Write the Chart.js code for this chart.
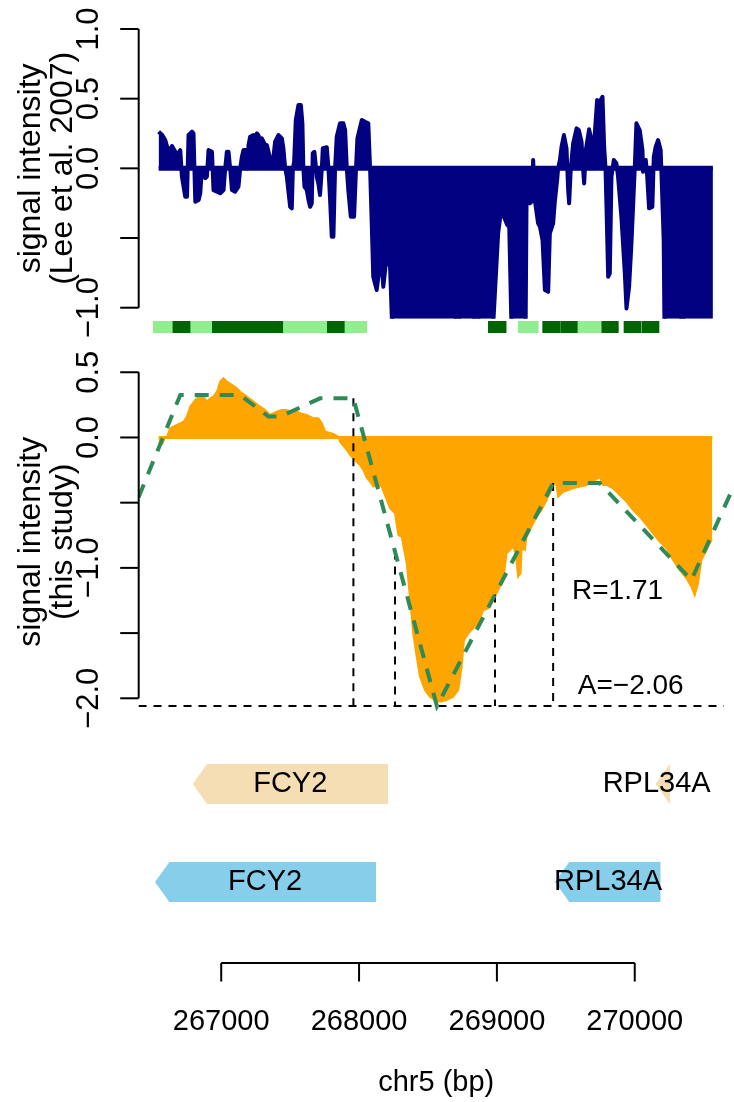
<!DOCTYPE html>
<html><head><meta charset="utf-8">
<script src="https://cdn.jsdelivr.net/npm/chart.js@4.4.1/dist/chart.umd.min.js"></script>
<style>
html,body{margin:0;padding:0;background:#fff;}
#wrap{position:relative;width:734px;height:1102px;overflow:hidden;background:#fff;}
canvas{position:absolute;left:0;top:0;}
</style></head><body>
<div id="wrap">
<canvas id="cTop" width="734" height="1102"></canvas>
<canvas id="cBox" width="734" height="1102"></canvas>
<canvas id="cMid" width="734" height="1102"></canvas>
<canvas id="cGene" width="734" height="1102"></canvas>
</div>
<script>
// ---------- data ----------
const xMin = 266400, xMax = 270720;

// Lee et al. 2007 signal (bp, value)
const leePos = [266546,266572,266594,266618,266643,266667,266679,266703,266715,266739,266752,266763,266788,266799,266812,266836,266848,266860,266884,266896,266908,266933,266944,266969,266993,267017,267029,267041,267053,267065,267078,267101,267125,267138,267150,267162,267181,267191,267198,267210,267234,267246,267259,267270,267283,267295,267319,267331,267343,267360,267379,267391,267415,267440,267451,267464,267476,267500,267512,267520,267529,267541,267560,267578,267589,267596,267604,267621,267633,267645,267657,267664,267676,267688,267693,267705,267717,267730,267737,267766,267778,267790,267802,267814,267826,267838,267862,267886,267899,267911,267922,267940,267964,267978,267988,268020,268043,268067,268080,268092,268103,268128,268140,268164,268176,268201,268225,268249,268297,268442,268587,268696,268715,268732,268790,268833,268853,268870,268920,268969,269009,269034,269051,269075,269089,269107,269130,269167,269208,269215,269239,269251,269263,269275,269299,269312,269331,269348,269372,269384,269408,269420,269437,269444,269457,269469,269486,269505,269517,269524,269536,269553,269578,269594,269614,269625,269633,269645,269669,269686,269698,269705,269727,269746,269766,269778,269788,269795,269807,269819,269831,269848,269867,269879,269903,269928,269940,269959,269976,269993,270000,270012,270036,270056,270060,270080,270089,270104,270128,270138,270152,270169,270188,270198,270210,270217,270268,270333,270346,270355,270435,270507,270567];
const leeVal = [0.263,0.239,0.203,0.119,0.160,0.119,0.095,0.131,-0.060,-0.204,-0.204,0.239,0.263,0.251,-0.240,-0.227,-0.179,0,-0.070,-0.060,0.131,0.119,-0.156,-0.168,-0.179,-0.156,0,0.119,0.119,0,-0.156,-0.168,-0.132,0,0.083,0.131,0.131,0,0.167,0.227,0.239,0.167,0.251,0.239,0.191,0.215,0.167,0.167,0.119,0.047,0.083,0.191,0.239,0.215,0.144,0,-0.060,-0.276,-0.287,0,0.047,0.347,0.454,0.454,0.323,0,-0.132,-0.156,-0.227,-0.276,-0.251,0.108,0.119,0,-0.060,-0.108,-0.192,0,0.144,0.151,0,-0.227,-0.491,-0.491,0,0.227,0.323,0.323,0.275,0,-0.156,-0.347,-0.347,0,0.215,0.347,0.334,0.323,0,-0.395,-0.778,-0.873,-0.778,-0.682,-0.850,-0.622,-0.706,-1.40,-1.60,-1.90,-1.70,-1.30,-0.85,-1.30,-1.50,-1.20,-0.63,-1.20,-1.60,-1.20,-0.466,-0.276,-0.347,-0.407,-0.395,-1.20,-1.60,-1.50,-1.20,-0.227,-0.251,-0.240,0.060,-0.227,-0.395,-0.419,-0.515,-0.873,-0.886,-0.466,-0.395,-0.240,-0.084,0,0.060,0.155,0.239,0.144,-0.156,-0.251,0,0.179,0.287,0.275,0.191,0,-0.108,0.131,0.280,0.203,0,0.179,0.490,0.478,0.514,0.155,0,-0.276,-0.778,-0.754,-0.060,0.060,0.036,-0.060,-0.347,-0.754,-1.005,-0.850,-0.538,-0.156,0,0.323,0.275,0.131,-0.024,0.060,-0.036,-0.287,-0.276,0.083,0.155,0.203,0.131,-0.156,-0.515,-1.30,-1.60,-1.30,-0.730,-1.30,-1.70,-1.40,-1.30];
const leeTickVals = [-1, -0.5, 0, 0.5, 1];
const leeTickLabels = ['\u22121.0', '', '0.0', '0.5', '1.0'];

// nucleosome boxes
const nucStart = [266507,266645,266774,266931,267059,267189,267318,267446,267603,267765,267893,268938,269155,269332,269463,269583,269760,269922,270051];
const nucEnd   = [266645,266774,266931,267059,267189,267318,267446,267603,267765,267893,268056,269067,269300,269458,269583,269753,269881,270043,270176];
const nucClass = ['fuzzy','well','fuzzy','well','well','well','well','fuzzy','fuzzy','well','fuzzy','well','fuzzy','well','well','fuzzy','well','well','well'];

// this study signal
const studyPos = [266546,266572,266594,266607,266630,266679,266727,266751,266775,266812,266848,266872,266896,266920,266944,266969,266993,267017,267041,267078,267114,267138,267186,267234,267283,267319,267355,267379,267404,267440,267476,267500,267536,267572,267621,267669,267705,267730,267754,267778,267814,267850,267862,267911,267935,267959,267983,268007,268031,268056,268080,268104,268140,268164,268201,268225,268261,268285,268309,268346,268370,268393,268418,268442,268478,268514,268551,268587,268636,268683,268720,268744,268761,268792,268828,268865,268901,268937,268973,269009,269046,269070,269094,269118,269136,269154,269172,269179,269203,269215,269251,269288,269324,269348,269384,269420,269428,269444,269481,269517,269553,269601,269650,269698,269746,269770,269795,269843,269891,269940,269988,270036,270085,270133,270181,270230,270278,270326,270375,270411,270435,270459,270483,270520,270556,270563];
const studyVal = [-0.05,-0.05,0.006,0.006,0.071,0.096,0.121,0.160,0.236,0.288,0.326,0.313,0.275,0.301,0.313,0.351,0.428,0.454,0.428,0.403,0.377,0.351,0.313,0.275,0.236,0.211,0.173,0.186,0.198,0.211,0.211,0.198,0.211,0.186,0.173,0.147,0.147,0.109,0.044,0.038,0.027,0.006,-0.032,-0.096,-0.134,-0.160,-0.186,-0.211,-0.249,-0.311,-0.339,-0.377,-0.364,-0.377,-0.479,-0.543,-0.581,-0.748,-0.761,-0.965,-1.233,-1.502,-1.681,-1.834,-1.936,-1.988,-2.013,-2.026,-2.013,-1.988,-1.936,-1.758,-1.553,-1.502,-1.463,-1.425,-1.323,-1.310,-1.246,-1.169,-1.093,-0.888,-0.863,-0.837,-0.888,-1.067,-1.041,-0.850,-0.863,-0.761,-0.684,-0.607,-0.556,-0.505,-0.428,-0.339,-0.339,-0.454,-0.416,-0.403,-0.390,-0.377,-0.364,-0.339,-0.301,-0.364,-0.364,-0.390,-0.441,-0.492,-0.556,-0.607,-0.671,-0.735,-0.799,-0.850,-0.939,-1.016,-1.080,-1.144,-1.208,-1.118,-0.939,-0.863,-0.786,-0.786];

// fitted model (green dashed)
const modelPos = [266400,266703,267138,267343,267428,267717,267959,268565,269408,269746,270411,270720];
const modelVal = [-0.46,0.325,0.325,0.16,0.16,0.30,0.30,-2.06,-0.35,-0.35,-1.093,-0.37];

// guide lines
const guidePos = [267959, 268261, 268986, 269408];
const guideTop = [0.30, -0.875, -1.205, -0.35];
const ampLevel = -2.06;
const ampFrom = 266400, ampTo = 270647;
const statText = ['R=1.71', 'A=\u22122.06'];
const statPos = [269875, 269971];
const statVal = [-1.182, -1.911];
const studyTickVals = [0.5, 0, -0.5, -1, -1.5, -2];
const studyTickLabels = ['0.5', '0.0', '', '\u22121.0', '', '\u22122.0'];

// genes
const geneName = ['FCY2', 'RPL34A', 'FCY2', 'RPL34A'];
const geneTrack = [0, 0, 1, 1];
const geneStart = [266793, 270151, 266520, 269421];
const geneEnd = [268212, 270256, 268123, 270188];
const geneLabelPos = [267501, 270159, 267318, 269806];
const xTickVals = [267000, 268000, 269000, 270000];
const xTickLabels = ['267000', '268000', '269000', '270000'];

// ---------- styles ----------
const FONT = '"Liberation Sans", Arial, Helvetica, sans-serif';
const NAVY = '#000080', ORANGE = '#FFA500', SEAGREEN = '#2E8B57';
const NUC_COLORS = {well: '#006400', fuzzy: '#90EE90'};
const TRACK_COLORS = ['#F5DEB3', '#87CEEB'];
const TRACK_MID = [7, 2.1];
const HEAD_BP = 104;
const W = 734, H = 1102;

const pts = (xs, ys) => xs.map((x, i) => ({x: x, y: ys[i]}));

function baseOptions(pad, yMin, yMax) {
  return {
    responsive: false, animation: false, devicePixelRatio: 1, events: [],
    layout: {padding: pad},
    plugins: {legend: {display: false}, tooltip: {enabled: false}},
    elements: {point: {radius: 0}, line: {tension: 0}},
    scales: {
      x: {type: 'linear', min: xMin, max: xMax, display: false},
      y: {type: 'linear', min: yMin, max: yMax, display: false}
    }
  };
}

function yAxisPlugin(tickVals, tickLabels, title) {
  return {
    id: 'yaxisdraw',
    afterDraw(chart) {
      const ctx = chart.ctx, ys = chart.scales.y, a = chart.chartArea;
      const x0 = a.left + 0.2;
      const yTop = ys.getPixelForValue(Math.max(...tickVals));
      const yBot = ys.getPixelForValue(Math.min(...tickVals));
      ctx.save();
      ctx.strokeStyle = '#000'; ctx.lineWidth = 2; ctx.lineCap = 'butt';
      ctx.beginPath(); ctx.moveTo(x0, yTop); ctx.lineTo(x0, yBot); ctx.stroke();
      tickVals.forEach(v => {
        const y = ys.getPixelForValue(v);
        ctx.beginPath(); ctx.moveTo(x0, y); ctx.lineTo(x0 - 18.5, y); ctx.stroke();
      });
      ctx.fillStyle = '#000';
      ctx.font = '31px ' + FONT;
      ctx.textAlign = 'center'; ctx.textBaseline = 'alphabetic';
      tickVals.forEach((v, i) => {
        if (!tickLabels[i]) return;
        const y = ys.getPixelForValue(v);
        ctx.save(); ctx.translate(x0 - 40.4, y); ctx.rotate(-Math.PI / 2);
        ctx.fillText(tickLabels[i], 0, 0); ctx.restore();
      });
      ctx.font = '32px ' + FONT;
      const yc = (a.top + a.bottom) / 2;
      const bx = [40, 71.5];
      title.forEach((t, i) => {
        ctx.save(); ctx.translate(bx[i], yc); ctx.rotate(-Math.PI / 2);
        ctx.fillText(t, 0, 0); ctx.restore();
      });
      ctx.restore();
    }
  };
}

// ---------- top panel ----------
new Chart(document.getElementById('cTop'), {
  type: 'line',
  data: {datasets: [
    {data: pts(leePos, leeVal), borderColor: NAVY, backgroundColor: NAVY, borderWidth: 4, fill: 'origin', borderJoinStyle: 'round'},
    {data: pts([leePos[0], leePos[leePos.length - 1]], [0, 0]), borderColor: NAVY, borderWidth: 5, fill: false}
  ]},
  options: baseOptions({left: 138.5, right: 0, top: 17.85, bottom: H - 318.85}, -1.08, 1.08),
  plugins: [yAxisPlugin(leeTickVals, leeTickLabels, ['signal intensity', '(Lee et al. 2007)'])]
});

// ---------- nucleosome strip ----------
(function () {
  const o = baseOptions({left: 138.5, right: 0, top: 321, bottom: H - 333}, 0, 1);
  o.indexAxis = 'y';
  o.scales = {
    x: {type: 'linear', min: xMin, max: xMax, display: false},
    y: {type: 'category', display: false}
  };
  new Chart(document.getElementById('cBox'), {
    type: 'bar',
    data: {labels: [''], datasets: nucStart.map((s, i) => ({
      data: [[s, nucEnd[i]]], backgroundColor: NUC_COLORS[nucClass[i]],
      borderWidth: 0, barPercentage: 1, categoryPercentage: 1, grouped: false
    }))},
    options: o
  });
})();

// ---------- middle panel ----------
(function () {
  const ds = [];
  ds.push({data: pts(modelPos, modelVal), borderColor: SEAGREEN, borderWidth: 4, borderDash: [14, 11], fill: false});
  guidePos.forEach((p, i) => ds.push({data: pts([p, p], [guideTop[i], ampLevel]), borderColor: '#000', borderWidth: 2, borderDash: [8, 7], fill: false}));
  ds.push({data: pts([ampFrom, ampTo], [ampLevel, ampLevel]), borderColor: '#000', borderWidth: 2, borderDash: [8, 7], fill: false});
  ds.push({data: pts(studyPos, studyVal), borderColor: ORANGE, backgroundColor: ORANGE, borderWidth: 2, fill: 'origin'});
  ds.push({data: pts([studyPos[0], studyPos[studyPos.length - 1]], [0, 0]), borderColor: ORANGE, borderWidth: 3, fill: false});
  const statPlugin = {
    id: 'stats',
    afterDraw(chart) {
      const ctx = chart.ctx, xs = chart.scales.x, ys = chart.scales.y;
      ctx.save(); ctx.fillStyle = '#000'; ctx.font = '28px ' + FONT;
      ctx.textAlign = 'center'; ctx.textBaseline = 'middle';
      statText.forEach((t, i) => ctx.fillText(t, xs.getPixelForValue(statPos[i]), ys.getPixelForValue(statVal[i])));
      ctx.restore();
    }
  };
  new Chart(document.getElementById('cMid'), {
    type: 'line',
    data: {datasets: ds},
    options: baseOptions({left: 138.5, right: 0, top: 358.7, bottom: H - 724.9}, -2.204, 0.604),
    plugins: [yAxisPlugin(studyTickVals, studyTickLabels, ['signal intensity', '(this study)']), statPlugin]
  });
})();

// ---------- gene panel + x axis ----------
(function () {
  const ds = [];
  geneName.forEach((g, i) => {
    const mid = TRACK_MID[geneTrack[i]];
    const head = Math.min(HEAD_BP, geneEnd[i] - geneStart[i]);
    const c = TRACK_COLORS[geneTrack[i]];
    ds.push({data: pts([geneStart[i], geneStart[i] + head, geneEnd[i]], [mid, mid + 1, mid + 1]), borderWidth: 0, borderColor: c, backgroundColor: c, fill: '+1'});
    ds.push({data: pts([geneStart[i], geneStart[i] + head, geneEnd[i]], [mid, mid - 1, mid - 1]), borderWidth: 0, borderColor: c, backgroundColor: c, fill: false});
  });
  const genePlugin = {
    id: 'genetext',
    afterDraw(chart) {
      const ctx = chart.ctx, xs = chart.scales.x, ys = chart.scales.y, a = chart.chartArea;
      ctx.save(); ctx.fillStyle = '#000'; ctx.strokeStyle = '#000';
      ctx.font = '29px ' + FONT; ctx.textAlign = 'center'; ctx.textBaseline = 'middle';
      geneName.forEach((g, i) => ctx.fillText(g, xs.getPixelForValue(geneLabelPos[i]), ys.getPixelForValue(TRACK_MID[geneTrack[i]])));
      // x axis
      const yAx = 963;
      const x1 = xs.getPixelForValue(xTickVals[0]), x2 = xs.getPixelForValue(xTickVals[xTickVals.length - 1]);
      ctx.lineWidth = 2;
      ctx.beginPath(); ctx.moveTo(x1, yAx); ctx.lineTo(x2, yAx); ctx.stroke();
      ctx.font = '29px ' + FONT; ctx.textBaseline = 'alphabetic';
      xTickVals.forEach((v, i) => {
        const x = xs.getPixelForValue(v);
        ctx.beginPath(); ctx.moveTo(x, yAx); ctx.lineTo(x, yAx + 18.5); ctx.stroke();
        ctx.fillText(xTickLabels[i], x, 1030);
      });
      ctx.fillText('chr5 (bp)', (a.left + a.right) / 2, 1091);
      ctx.restore();
    }
  };
  new Chart(document.getElementById('cGene'), {
    type: 'line',
    data: {datasets: ds},
    options: baseOptions({left: 138.5, right: 0, top: 744, bottom: H - 924}, 0, 9),
    plugins: [genePlugin]
  });
})();
</script>
</body></html>
